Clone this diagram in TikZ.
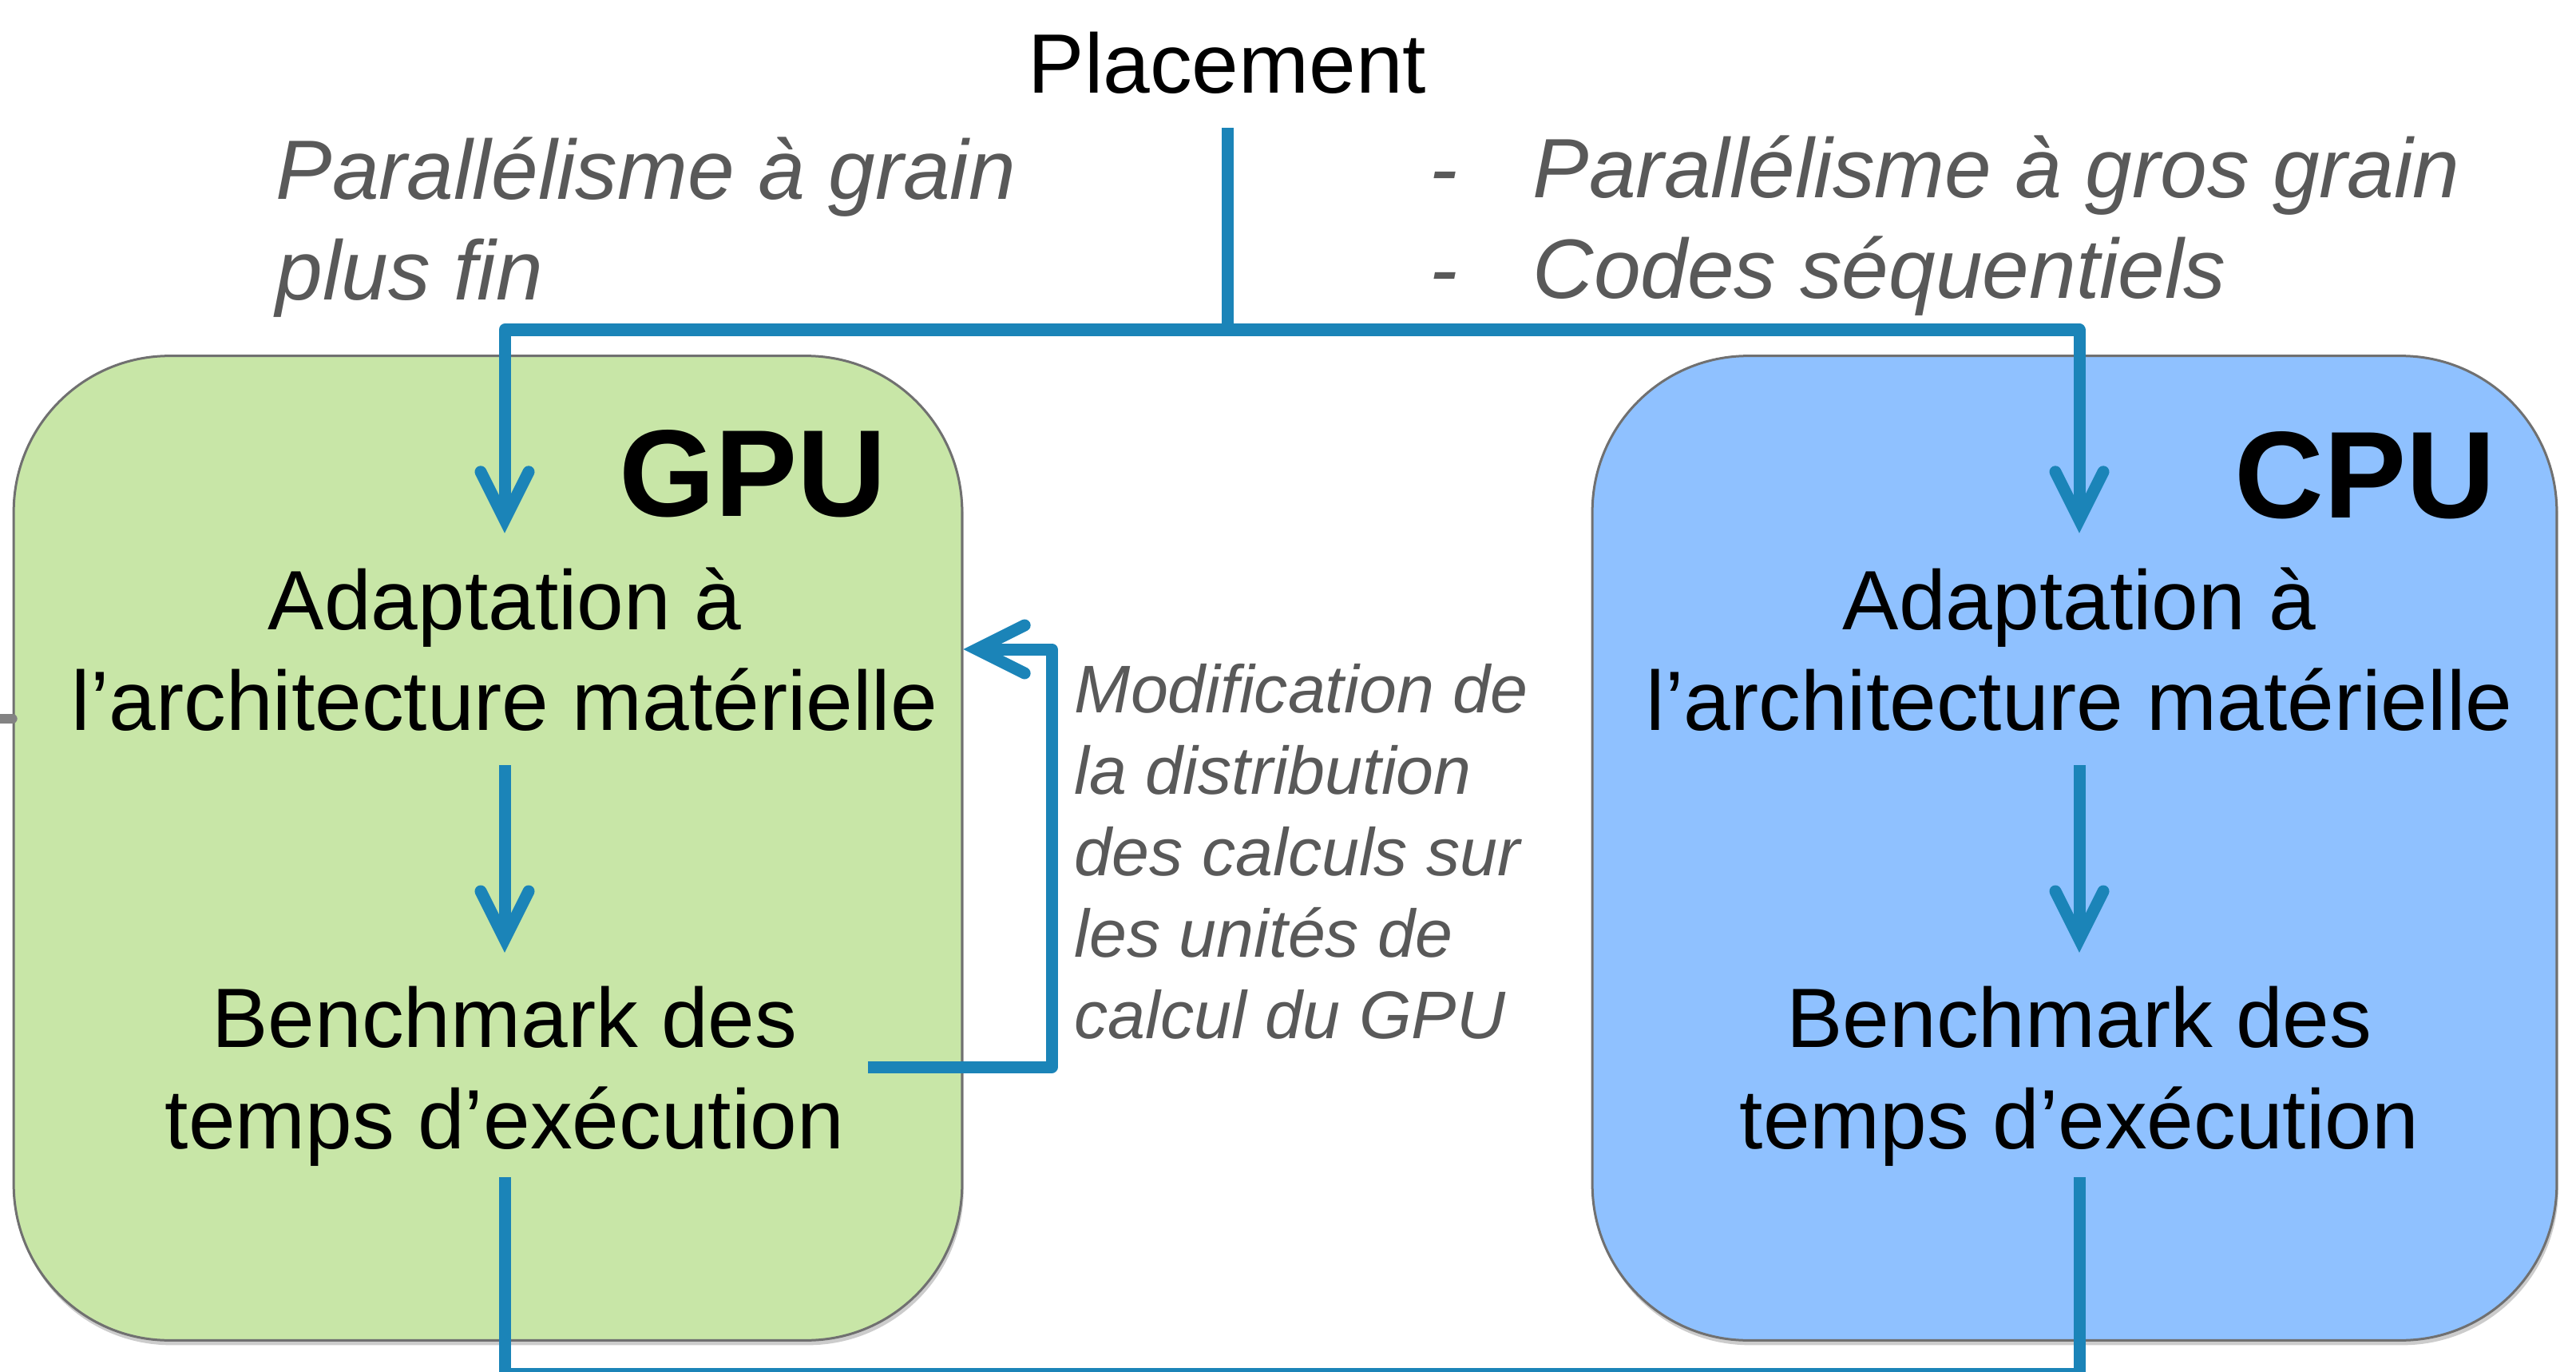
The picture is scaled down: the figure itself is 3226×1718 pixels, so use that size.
\documentclass[tikz,border=0pt]{standalone}
\usepackage{fontspec}
\setmainfont{Liberation Sans}
\usetikzlibrary{arrows.meta,shadows}
\definecolor{flowblue}{RGB}{27,132,184}
\definecolor{gpugreen}{RGB}{200,230,167}
\definecolor{cpublue}{RGB}{143,193,255}
\definecolor{edgegray}{RGB}{112,112,112}
\definecolor{stubgray}{RGB}{131,131,131}
\definecolor{notegray}{RGB}{89,89,89}
\begin{document}
\begin{tikzpicture}[x=0.01cm, y=-0.01cm,
    link/.style={draw=flowblue, line width=0.15cm, line join=round},
    flow/.style={link, -{Straight Barb[length=0.6cm, width=0.6cm, line cap=round, line join=miter]}},
    procbox/.style={draw=edgegray, line width=0.03cm, rounded corners=1.95cm, minimum height=12.32cm,
        drop shadow={shadow xshift=0.02cm, shadow yshift=-0.06cm, opacity=0.4}},
    steptext/.style={align=center, inner xsep=0pt, inner ysep=0.42cm, font=\fontsize{30}{36}\selectfont},
    note/.style={align=left, inner sep=0pt, text=notegray, font=\fontsize{30}{36}\selectfont\itshape},
    unit/.style={inner sep=0pt, font=\fontsize{44}{52}\selectfont\bfseries}]
    \useasboundingbox (0,0) rectangle (3226,1718);

    % the two targets
    \node[procbox, fill=gpugreen, minimum width=11.87cm] (gpubox) at (611,1062) {};
    \node[procbox, fill=cpublue, minimum width=12.07cm] (cpubox) at (2598,1062) {};
    \node[unit, anchor=base east] (gputitle) at (1111,646) {GPU};
    \node[unit, anchor=base east] (cputitle) at (3126,648) {CPU};

    \node[steptext] (place) at (1537,79) {Placement};
    \node[steptext] (gpuadapt) at (632,813) {Adaptation à\\l’architecture matérielle};
    \node[steptext] (gpubench) at (632,1348) {Benchmark des\\temps d’exécution};
    \node[steptext] (cpuadapt) at (2604,813) {Adaptation à\\l’architecture matérielle};
    \node[steptext] (cpubench) at (2604,1348) {Benchmark des\\temps d’exécution};

    \node[note, anchor=north west] (fine) at (345,171) {Parallélisme à grain\\plus fin};
    \node[note, anchor=north west] (coarse) at (1790,158) {\begin{tabular}{@{}l@{\hspace{0.94cm}}l@{}}-&Parallélisme à gros grain\\-&Codes séquentiels\end{tabular}};
    \node[note, font=\fontsize{24}{29}\selectfont\itshape, anchor=north west] (modif) at (1345,831)
        {Modification de\\la distribution\\des calculs sur\\les unités de\\calcul du GPU};

    \coordinate (above) at (1537,-80);
    \coordinate (split) at (1537,413);
    \coordinate (turn) at (1317,813);
    \coordinate (loop) at (1537,1720);
    \coordinate (leftin) at (-20,900);

    \draw[flow] (above) -- (place);
    \draw[link] (place) -- (split);
    \draw[flow] (split) -| (gpuadapt);
    \draw[flow] (split) -| (cpuadapt);
    \draw[flow] (gpuadapt) -- (gpubench);
    \draw[flow] (cpuadapt) -- (cpubench);
    \draw[flow] ([xshift=0.29cm, yshift=0.12cm]gpubench.east) -| (turn) -- (turn -| gpubox.east);
    \draw[link, shorten <=-0.29cm, shorten >=-0.29cm] (gpubench) |- (loop) -| (cpubench);
    \draw[stubgray, line width=0.12cm, line cap=round] (leftin) -- (leftin -| gpubox.west);
\end{tikzpicture}
\end{document}
